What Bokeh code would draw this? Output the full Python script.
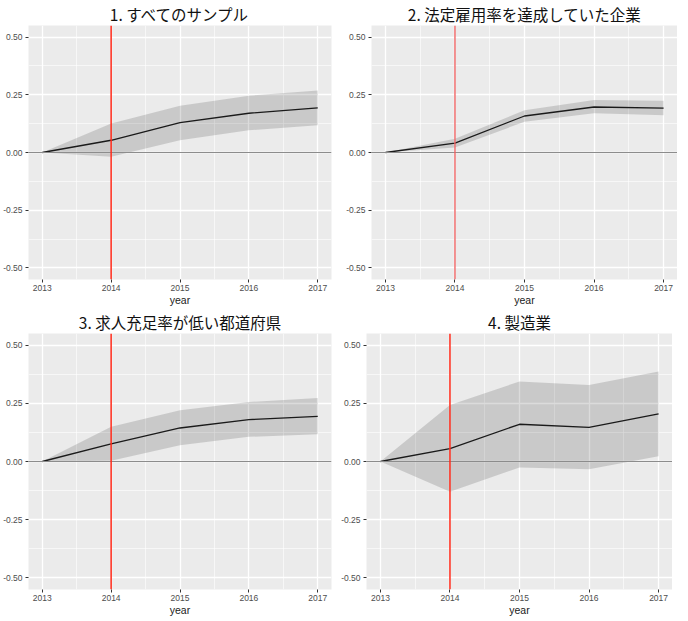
from bokeh.plotting import figure
from bokeh.layouts import column, row
from bokeh.models import Span, FixedTicker, NumeralTickFormatter, Range1d
from bokeh.embed import file_html
from bokeh.resources import INLINE

years = [2013, 2014, 2015, 2016, 2017]
y_ticks = [-0.5, -0.25, 0.0, 0.25, 0.5]

titles = ["1. すべてのサンプル", "2. 法定雇用率を達成していた企業",
          "3. 求人充足率が低い都道府県", "4. 製造業"]

est1 = [0.0, 0.053, 0.129, 0.170, 0.193]
up1 = [0.0, 0.126, 0.202, 0.246, 0.268]
lo1 = [0.0, -0.018, 0.053, 0.096, 0.118]

est2 = [0.0, 0.041, 0.158, 0.197, 0.192]
up2 = [0.0, 0.060, 0.183, 0.227, 0.224]
lo2 = [0.0, 0.022, 0.133, 0.170, 0.161]

est3 = [0.0, 0.076, 0.144, 0.180, 0.194]
up3 = [0.0, 0.149, 0.220, 0.256, 0.273]
lo3 = [0.0, 0.003, 0.070, 0.106, 0.117]

est4 = [0.0, 0.055, 0.160, 0.147, 0.205]
up4 = [0.0, 0.243, 0.344, 0.329, 0.387]
lo4 = [0.0, -0.130, -0.026, -0.033, 0.023]

treat_year = 2014


def make(title, est, up, lo, fw, fh, bl, br, bt, vcolor, valpha):
    p = figure(frame_width=fw, frame_height=fh, output_backend="svg", toolbar_location=None,
               x_range=Range1d(2012.8, 2017.2), y_range=Range1d(-0.55, 0.55),
               min_border_left=bl, min_border_right=br, min_border_top=bt,
               min_border_bottom=0)
    p.title.text = title
    p.title.align = "center"
    p.title.text_font = "Noto Sans CJK JP"
    p.title.text_font_size = "15.5px"
    p.title.text_font_style = "normal"
    p.title.text_color = "#111111"
    p.title.standoff = 1
    p.background_fill_color = "#EBEBEB"
    p.border_fill_color = "white"
    p.outline_line_color = None

    xmin = [y + 0.5 for y in years[:-1]]
    p.xaxis.ticker = FixedTicker(ticks=years, minor_ticks=xmin)
    p.yaxis.ticker = FixedTicker(ticks=y_ticks, minor_ticks=[-0.375, -0.125, 0.125, 0.375])
    p.yaxis.formatter = NumeralTickFormatter(format="0.00")
    for ax in (p.xaxis, p.yaxis):
        ax.axis_line_color = None
        ax.major_tick_line_color = "#333333"
        ax.major_tick_in = 0
        ax.major_tick_out = 3
        ax.minor_tick_line_color = None
        ax.major_label_text_font = "Liberation Sans"
        ax.major_label_text_font_size = "8.5px"
        ax.major_label_text_color = "#4D4D4D"
        ax.major_label_standoff = 2
    p.xaxis.major_label_standoff = 1
    p.xaxis.axis_label = "year"
    p.xaxis.axis_label_text_font = "Liberation Sans"
    p.xaxis.axis_label_text_font_size = "10.5px"
    p.xaxis.axis_label_text_font_style = "normal"
    p.xaxis.axis_label_text_color = "#1A1A1A"
    p.xaxis.axis_label_standoff = 0

    for g in (p.xgrid, p.ygrid):
        g.grid_line_color = "white"
        g.grid_line_width = 1.3
        g.minor_grid_line_color = "white"
        g.minor_grid_line_width = 0.6

    p.varea(x=years, y1=lo, y2=up, fill_color="black", fill_alpha=0.14)
    p.add_layout(Span(location=0, dimension="width", line_color="#8C8C8C", line_width=1))
    p.line(years, est, line_color="#1A1A1A", line_width=1.3)
    p.add_layout(Span(location=treat_year, dimension="height", line_color=vcolor,
                      line_alpha=valpha, line_width=1.5))
    return p


p1 = make(titles[0], est1, up1, lo1, 303, 254, 26, 4, 20, "#FF2A1A", 1.0)
p2 = make(titles[1], est2, up2, lo2, 306, 254, 36, 0, 24, "#F06060", 0.9)
p3 = make(titles[2], est3, up3, lo3, 303, 256, 26, 4, 24, "#FF2A1A", 1.0)
p4 = make(titles[3], est4, up4, lo4, 306, 256, 31, 0, 24, "#FF2A1A", 1.0)

layout = column(row(p1, p2), row(p3, p4))
open("out.html", "w").write(file_html(layout, INLINE))
